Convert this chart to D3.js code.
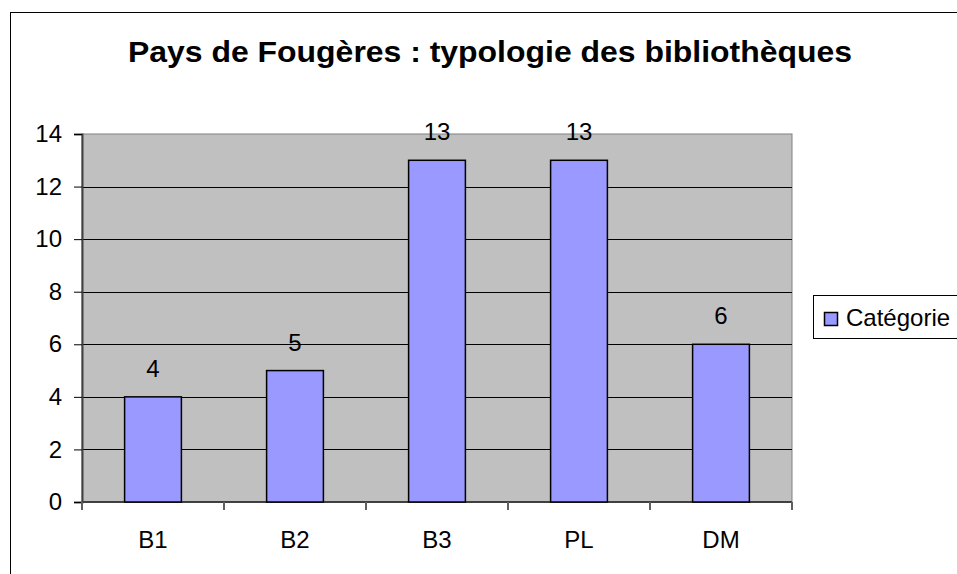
<!DOCTYPE html>
<html>
<head>
<meta charset="utf-8">
<script src="https://cdn.jsdelivr.net/npm/d3@7"></script>
<style>
  body { margin: 0; background: #fff; }
  svg { display: block; font-family: "Liberation Sans", Arial, sans-serif; }
</style>
</head>
<body>
<div id="chart"></div>
<script>
const categories = ["B1", "B2", "B3", "PL", "DM"];
const values = [4, 5, 13, 13, 6];
const yTicks = [0, 2, 4, 6, 8, 10, 12, 14];
const seriesName = "Catégorie";
const TITLE = "Pays de Fougères : typologie des bibliothèques";

const BAR_COLOR = "#9999ff";
const PLOT_COLOR = "#c0c0c0";
const FS = 24;

let width = 957, height = 574;
let plot = { left: 82, right: 792, top: 134, bottom: 502 };

let svg = d3.select("#chart").append("svg").attr("width", width).attr("height", height);

// outer chart border (runs off the right/bottom edge)
svg.append("rect").attr("x", 10.5).attr("y", 12.5).attr("width", 1000).attr("height", 600)
    .attr("fill", "#fff").attr("stroke", "#000");

svg.append("text").attr("x", 490).attr("y", 62).attr("text-anchor", "middle")
    .attr("font-size", 30).attr("font-weight", "bold")
    .attr("textLength", 724).attr("lengthAdjust", "spacingAndGlyphs")
    .text(TITLE);

let x = d3.scaleBand().domain(categories).range([plot.left, plot.right]).paddingInner(0.6).paddingOuter(0.3);
let xb = d3.scaleBand().domain(categories).range([plot.left, plot.right]);
let y = d3.scaleLinear().domain([0, 14]).range([plot.bottom, plot.top]);

svg.append("rect").attr("x", plot.left).attr("y", plot.top)
    .attr("width", plot.right - plot.left).attr("height", plot.bottom - plot.top)
    .attr("fill", PLOT_COLOR).attr("stroke", "#808080");

// gridlines
svg.append("g").selectAll("line").data(yTicks.filter(d => d > 0 && d < 14)).join("line")
    .attr("x1", plot.left).attr("x2", plot.right)
    .attr("y1", d => Math.round(y(d)) + 0.5).attr("y2", d => Math.round(y(d)) + 0.5)
    .attr("stroke", "#000");

// y axis
let yAxis = svg.append("g").attr("transform", `translate(${plot.left},0)`)
    .call(d3.axisLeft(y).tickValues(yTicks).tickSize(8).tickPadding(12));
yAxis.select(".domain").attr("stroke", "#404040").attr("stroke-width", 2);
yAxis.selectAll(".tick line").attr("stroke", "#000");
yAxis.selectAll(".tick text").attr("font-size", FS).attr("fill", "#000")
    .attr("font-family", "Liberation Sans, Arial, sans-serif");

// x axis: ticks at category boundaries
let xAxis = svg.append("g").attr("transform", `translate(0,${plot.bottom})`);
xAxis.append("line").attr("x1", plot.left).attr("x2", plot.right).attr("stroke", "#404040").attr("stroke-width", 2);
xAxis.selectAll("line.tk").data(categories.concat(["end"])).join("line").attr("class", "tk")
    .attr("x1", (d, i) => plot.left + i * xb.step()).attr("x2", (d, i) => plot.left + i * xb.step())
    .attr("y1", 0).attr("y2", 8).attr("stroke", "#606060").attr("stroke-width", 2);
xAxis.selectAll("text").data(categories).join("text")
    .attr("x", d => xb(d) + xb.bandwidth() / 2).attr("y", 46)
    .attr("text-anchor", "middle").attr("font-size", FS).text(d => d);

// bars
svg.append("g").selectAll("rect").data(values).join("rect")
    .attr("x", (d, i) => x(categories[i])).attr("y", d => y(d))
    .attr("width", x.bandwidth()).attr("height", d => y(0) - y(d))
    .attr("fill", BAR_COLOR).attr("stroke", "#000").attr("stroke-width", 1.5);

svg.append("g").selectAll("text").data(values).join("text")
    .attr("x", (d, i) => x(categories[i]) + x.bandwidth() / 2).attr("y", d => y(d) - 20)
    .attr("text-anchor", "middle").attr("font-size", FS).text(d => d);

// legend
let lg = svg.append("g");
lg.append("rect").attr("x", 813.5).attr("y", 295.5).attr("width", 200).attr("height", 43)
    .attr("fill", "#fff").attr("stroke", "#000");
lg.append("rect").attr("x", 824.5).attr("y", 312.5).attr("width", 13).attr("height", 13)
    .attr("fill", BAR_COLOR).attr("stroke", "#000").attr("stroke-width", 1.5);
lg.append("text").attr("x", 846).attr("y", 326).attr("font-size", FS).text(seriesName);
</script>
</body>
</html>
